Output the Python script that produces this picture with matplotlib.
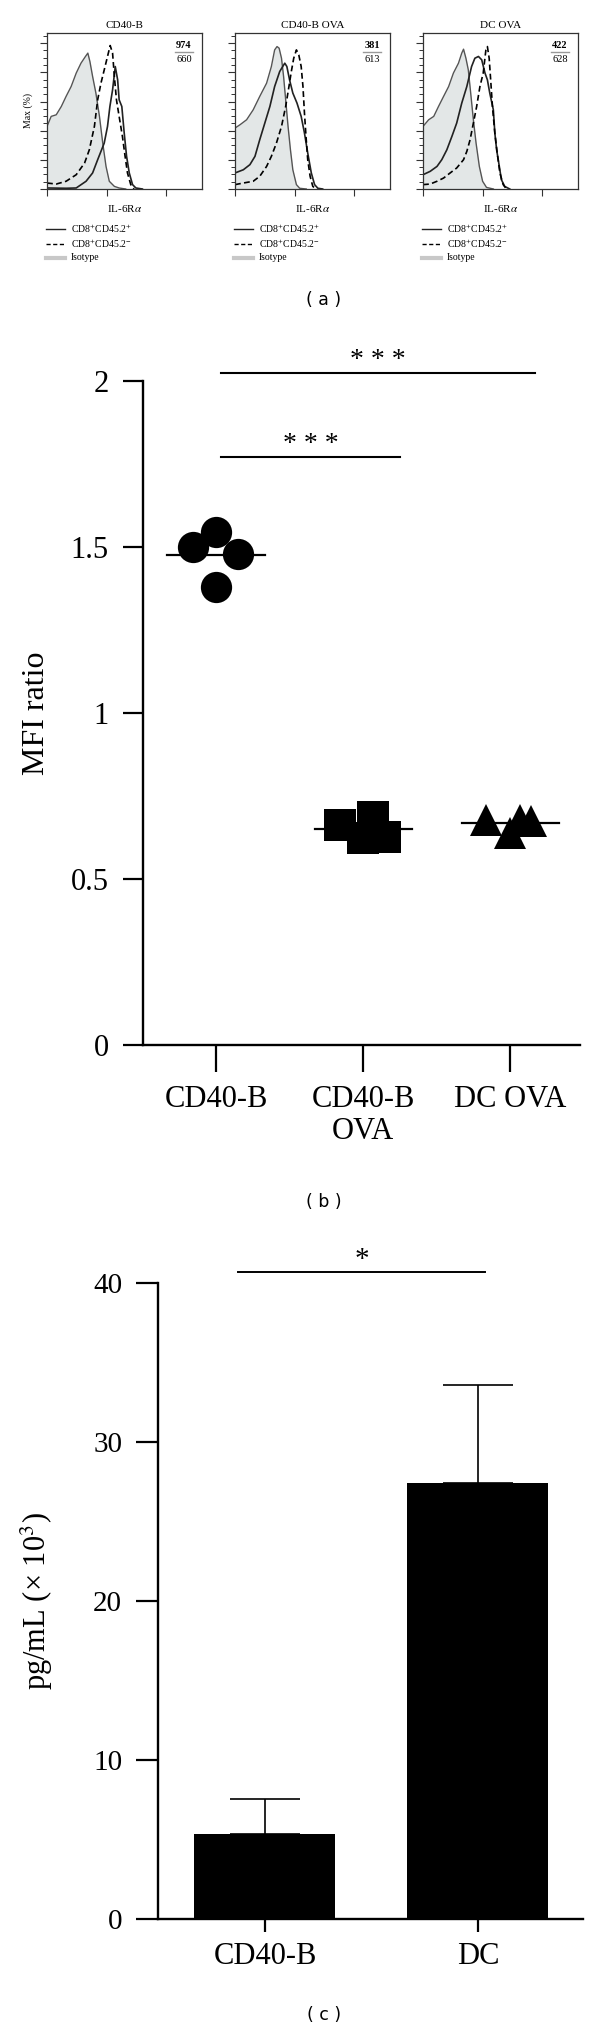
import numpy as np
import matplotlib
matplotlib.use("Agg")
import matplotlib.pyplot as plt
from matplotlib.lines import Line2D
from matplotlib.ticker import MultipleLocator, NullFormatter

plt.rcParams['font.family'] = ['Liberation Serif', 'DejaVu Serif']
plt.rcParams['mathtext.fontset'] = 'stix'

# ---- panel (a): histograms, x in log10 decades, y in % of max ----
hist_titles = ['CD40-B', 'CD40-B OVA', 'DC OVA']
mfi_top = ['974', '381', '422']
mfi_bottom = ['660', '613', '628']

iso_x = [
    [0, .14, .31, .48, .64, .81, .98, 1.14, 1.29, 1.37, 1.44, 1.53, 1.64, 1.76, 1.87, 1.98, 2.09, 2.26, 2.42, 2.64],
    [0, .17, .39, .61, .83, 1.06, 1.22, 1.33, 1.41, 1.48, 1.56, 1.63, 1.70, 1.78, 1.86, 1.94, 2.06, 2.17, 2.39],
    [0, .19, .36, .52, .69, .86, 1.02, 1.19, 1.30, 1.36, 1.44, 1.52, 1.60, 1.69, 1.78, 1.89, 2.00, 2.13, 2.36],
]
iso_y = [
    [42.9, 49.8, 50.9, 56.6, 63.5, 70.3, 79.5, 86.3, 90.9, 93.2, 87.4, 77.2, 65.8, 49.8, 31.5, 15.5, 5.3, 1.8, 0.7, 0],
    [41.8, 44.1, 47.5, 54.3, 63.5, 72.6, 84.0, 95.4, 97.7, 96.6, 89.7, 77.2, 61.2, 42.9, 26.9, 13.2, 3.0, 0.5, 0],
    [42.9, 47.5, 49.8, 56.6, 63.5, 70.3, 79.5, 86.3, 93.2, 95.9, 89.7, 81.7, 65.8, 47.5, 31.5, 15.5, 5.3, 1.1, 0],
]
pos_x = [
    [0, .64, .98, 1.31, 1.53, 1.70, 1.81, 1.92, 2.03, 2.11, 2.20, 2.29, 2.37, 2.42, 2.51, 2.59, 2.67, 2.76, 2.87, 2.98, 3.20],
    [0, .28, .50, .67, .83, 1.00, 1.17, 1.33, 1.50, 1.67, 1.74, 1.83, 1.94, 2.08, 2.22, 2.33, 2.44, 2.56, 2.67, 2.78, 2.94],
    [0, .24, .47, .63, .80, .97, 1.13, 1.30, 1.47, 1.63, 1.74, 1.86, 1.97, 2.08, 2.16, 2.24, 2.36, 2.41, 2.47, 2.56, 2.63, 2.74, 2.91],
]
pos_y = [
    [0.7, 0.5, 0.7, 5.3, 11.0, 20.1, 25.8, 31.5, 42.9, 56.6, 68.0, 84.0, 74.9, 61.2, 56.6, 38.4, 22.4, 11.0, 3.0, 0.7, 0],
    [11.0, 13.2, 16.7, 22.4, 33.8, 45.2, 56.6, 70.3, 80.6, 86.3, 84.0, 74.9, 65.8, 58.9, 49.8, 38.4, 24.7, 11.0, 3.0, 0.5, 0],
    [9.8, 12.1, 15.5, 20.1, 26.9, 36.1, 45.2, 58.9, 70.3, 84.0, 89.7, 90.9, 88.6, 79.5, 74.9, 65.8, 54.3, 38.4, 26.9, 15.5, 6.4, 1.8, 0],
]
neg_x = [
    [0, .31, .64, .98, 1.26, 1.42, 1.59, 1.70, 1.81, 1.92, 2.03, 2.12, 2.20, 2.26, 2.33, 2.42, 2.53, 2.62, 2.70, 2.81, 2.92],
    [0, .28, .61, .83, 1.06, 1.22, 1.39, 1.56, 1.70, 1.81, 1.89, 1.97, 2.06, 2.14, 2.22, 2.28, 2.33, 2.39, 2.44, 2.52, 2.61, 2.72],
    [0, .24, .47, .69, .91, 1.13, 1.36, 1.47, 1.58, 1.69, 1.80, 1.91, 2.02, 2.11, 2.16, 2.22, 2.27, 2.33, 2.41, 2.49, 2.58, 2.69, 2.80],
]
neg_y = [
    [4.1, 3.4, 5.3, 9.8, 17.8, 26.9, 42.9, 61.2, 72.6, 81.7, 90.9, 98.4, 93.2, 77.2, 61.2, 49.8, 36.1, 22.4, 11.0, 3.0, 0],
    [3.0, 4.1, 5.3, 8.7, 15.5, 22.4, 31.5, 42.9, 56.6, 70.3, 80.6, 89.7, 95.4, 92.0, 84.0, 70.3, 52.1, 33.8, 20.1, 8.7, 1.8, 0],
    [3.0, 3.4, 5.3, 7.5, 11.0, 14.4, 20.1, 25.8, 33.8, 45.2, 56.6, 70.3, 79.5, 95.4, 97.7, 89.7, 74.9, 56.6, 38.4, 24.7, 11.0, 3.0, 0],
]
legend_labels = ['CD8$^{+}$CD45.2$^{+}$', 'CD8$^{+}$CD45.2$^{-}$', 'Isotype']

# ---- panel (b): MFI ratio dot plot ----
groups_b = ['CD40-B', 'CD40-B\nOVA', 'DC OVA']
mfi_cd40b = [1.50, 1.545, 1.48, 1.38]
mfi_cd40b_ova = [0.663, 0.687, 0.623, 0.627]
mfi_dc_ova = [0.678, 0.638, 0.678, 0.675]
jitter_b = [[-0.155, 0, 0.15, 0], [-0.156, 0.068, 0, 0.15], [-0.163, 0, 0.068, 0.143]]

# ---- panel (c): bar chart ----
groups_c = ['CD40-B', 'DC']
conc = [5.35, 27.4]
conc_err = [2.2, 6.2]

W, H = 600, 2030
fig = plt.figure(figsize=(W / 100, H / 100), dpi=100)


def box(l, t, r, b):
    return [l / W, 1 - b / H, (r - l) / W, (b - t) / H]


def fx(px):
    return px / W


def fy(py):
    return 1 - py / H


# panel (a)
lefts = [47, 235, 423]
for i, L in enumerate(lefts):
    R = L + 155
    ax = fig.add_axes(box(L, 33, R, 189))
    xi = 10 ** np.array(iso_x[i])
    ax.fill_between(xi, iso_y[i], color='#e3e7e7', lw=0)
    ax.plot(xi, iso_y[i], color='#555555', lw=1.0)
    ax.plot(10 ** np.array(pos_x[i]), pos_y[i], color='#222222', lw=1.2)
    ax.plot(10 ** np.array(neg_x[i]), neg_y[i], color='black', lw=1.2, ls=(0, (3.5, 2)))
    ax.set_xscale('log')
    ax.set_xlim(1, 10 ** 5.2)
    ax.set_ylim(0, 107)
    ax.yaxis.set_major_locator(MultipleLocator(20))
    ax.yaxis.set_minor_locator(MultipleLocator(5))
    ax.xaxis.set_major_formatter(NullFormatter())
    ax.xaxis.set_minor_formatter(NullFormatter())
    ax.yaxis.set_major_formatter(NullFormatter())
    ax.tick_params(which='major', direction='out', length=5, width=0.8, color='#333333')
    ax.tick_params(which='minor', direction='out', length=3, width=0.7, color='#333333')
    for s in ax.spines.values():
        s.set_linewidth(0.9)
        s.set_color('#333333')

    cx = (L + R) / 2
    fig.text(fx(cx), fy(26), hist_titles[i], ha='center', va='center', fontsize=8)
    fig.text(fx(cx), fy(209), 'IL-6R$\\alpha$', ha='center', va='center', fontsize=8)
    nx = R - 18
    fig.text(fx(nx), fy(45), mfi_top[i], ha='center', va='center', fontsize=7.5, weight='bold')
    fig.text(fx(nx), fy(60), mfi_bottom[i], ha='center', va='center', fontsize=7.5)
    fig.add_artist(Line2D([fx(nx - 9), fx(nx + 9)], [fy(52), fy(52)], color='#999999', lw=1.0))

    styles = [dict(color='#222222', lw=1.0), dict(color='black', lw=1.0, ls=(0, (3, 1.8))),
              dict(color='#c8c8c8', lw=3)]
    for k, yy in enumerate([229, 244, 258]):
        fig.add_artist(Line2D([fx(L - 1), fx(L + 18)], [fy(yy), fy(yy)], **styles[k]))
        fig.text(fx(L + 24), fy(yy), legend_labels[k], ha='left', va='center', fontsize=7)

    if i == 0:
        fig.text(fx(28), fy(111), 'Max (%)', rotation=90, ha='center', va='center', fontsize=7)

fig.text(fx(324), fy(300), '( a )', ha='center', va='center', fontsize=12.5, family='DejaVu Sans')

# panel (b)
axb = fig.add_axes(box(143, 381, 580, 1045))
markers = ['o', 's', '^']
for g, (vals, m) in enumerate(zip([mfi_cd40b, mfi_cd40b_ova, mfi_dc_ova], markers)):
    xs = [g + j for j in jitter_b[g]]
    axb.plot(xs, vals, ls='none', marker=m, ms=22.5, color='black', mew=0, zorder=3)
    axb.plot([g - 0.33, g + 0.33], [np.mean(vals)] * 2, color='black', lw=1.6, zorder=4)
axb.set_xlim(-0.4966, 2.476)
axb.set_ylim(0, 2)
axb.set_yticks([0, 0.5, 1, 1.5, 2])
axb.set_yticklabels(['0', '0.5', '1', '1.5', '2'])
axb.set_xticks(range(3))
axb.set_xticklabels(groups_b, linespacing=1.15)
axb.tick_params(axis='y', direction='out', length=14.5, width=1.6, pad=10, labelsize=22)
axb.tick_params(axis='x', direction='out', length=19.5, width=1.6, pad=9, labelsize=22)
for s in ['top', 'right']:
    axb.spines[s].set_visible(False)
for s in ['left', 'bottom']:
    axb.spines[s].set_linewidth(1.7)
axb.set_ylabel('MFI ratio', fontsize=23, va='center')
axb.yaxis.set_label_coords((37 - 143) / 437, 0.5)

sig_b = [(0.034, 2.17, 2.024), (0.034, 1.25, 1.771)]
for x0, x1, yv in sig_b:
    axb.plot([x0, x1], [yv, yv], color='black', lw=1.5, clip_on=False)
    axb.text((x0 + x1) / 2, yv + 0.018, '* * *', ha='center', va='baseline', fontsize=20, clip_on=False)

fig.text(fx(324), fy(1202), '( b )', ha='center', va='center', fontsize=12.5, family='DejaVu Sans')

# panel (c)
axc = fig.add_axes(box(158, 1283, 583, 1919))
xc = np.arange(len(groups_c))
axc.bar(xc, conc, width=0.662, color='black', zorder=2)
axc.errorbar(xc, conc, yerr=[[0, 0], conc_err], fmt='none', ecolor='black',
             elinewidth=1.2, capsize=25, capthick=1.2, zorder=1)
axc.set_xlim(-0.502, 1.493)
axc.set_ylim(0, 40)
axc.set_yticks([0, 10, 20, 30, 40])
axc.set_xticks(xc)
axc.set_xticklabels(groups_c)
axc.tick_params(axis='y', direction='out', length=15.8, width=1.6, pad=10, labelsize=21)
axc.tick_params(axis='x', direction='out', length=9.5, width=1.6, pad=7, labelsize=22)
for s in ['top', 'right']:
    axc.spines[s].set_visible(False)
for s in ['left', 'bottom']:
    axc.spines[s].set_linewidth(1.7)
axc.set_ylabel('pg/mL (× 10$^3$)', fontsize=22, va='center')
axc.yaxis.set_label_coords((37 - 158) / 425, 0.5)

axc.plot([-0.127, 1.033], [40.7, 40.7], color='black', lw=1.4, clip_on=False)
axc.text(0.453, 41.0, '*', ha='center', va='baseline', fontsize=21, clip_on=False)

fig.text(fx(324), fy(2015), '( c )', ha='center', va='center', fontsize=12.5, family='DejaVu Sans')

fig.savefig('out.png', dpi=100, facecolor='white')
